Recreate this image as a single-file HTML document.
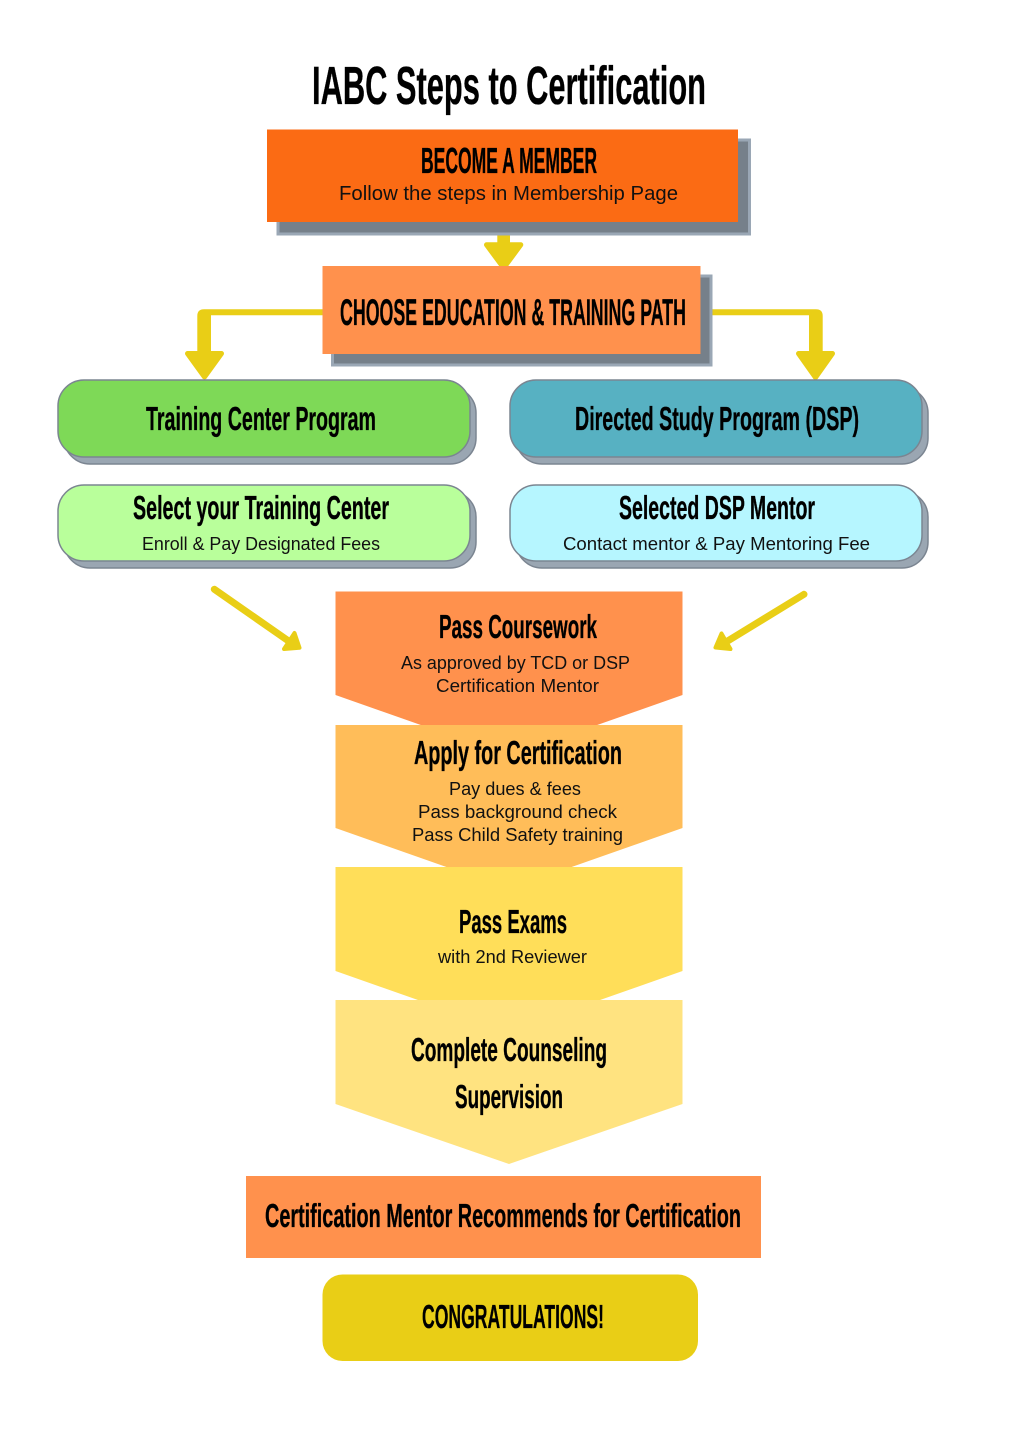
<!DOCTYPE html>
<html lang="en">
<head>
<meta charset="utf-8">
<title>IABC Steps to Certification</title>
<style>
html,body{margin:0;padding:0;background:#fff}
svg{display:block}
.h{font-family:"Liberation Sans",sans-serif;font-weight:700;fill:#000;stroke:#000;stroke-width:.35px}
.s{font-family:"Liberation Sans",sans-serif;font-weight:400;fill:#111;font-size:18px}
</style>
</head>
<body>
<svg xmlns="http://www.w3.org/2000/svg" width="1018" height="1440" viewBox="0 0 1018 1440">
<rect width="1018" height="1440" fill="#fff"/>

<!-- connectors -->
<g fill="#e9ce16" stroke="none">
  <rect x="497.300" y="234" width="12.700" height="12"/>
  <path d="M486.500 244.800H520.800L503.700 268Z" stroke="#e9ce16" stroke-width="5" stroke-linejoin="round"/>
  <path d="M323 309.300H204Q197.300 309.300 197.300 316V355H211V315.300H323Z"/>
  <path d="M187.500 353.500H221.500L204.500 377Z" stroke="#e9ce16" stroke-width="5" stroke-linejoin="round"/>
  <path d="M710 309.300H816Q822.700 309.300 822.700 316V355H809V315.300H710Z"/>
  <path d="M798.500 353.500H832.500L815.500 377.500Z" stroke="#e9ce16" stroke-width="5" stroke-linejoin="round"/>
  <path d="M214.300 589.300L290 642" fill="none" stroke="#e9ce16" stroke-width="7" stroke-linecap="round"/>
  <path d="M294.500 633L299.500 647.800L284 649Z" stroke="#e9ce16" stroke-width="4" stroke-linejoin="round"/>
  <path d="M804 594.300L726 642" fill="none" stroke="#e9ce16" stroke-width="7" stroke-linecap="round"/>
  <path d="M721.500 633.500L715.500 647.500L730.500 649Z" stroke="#e9ce16" stroke-width="4" stroke-linejoin="round"/>
</g>

<!-- top boxes -->
<rect x="278" y="140" width="471.500" height="94" fill="#76808a" stroke="#9aa7b5" stroke-width="3"/>
<rect x="267" y="129.500" width="471" height="92.500" fill="#fb6b14"/>
<rect x="332.500" y="276" width="378.500" height="89" fill="#76808a" stroke="#9aa7b5" stroke-width="3"/>
<rect x="322.500" y="266" width="378" height="88" fill="#ff914d"/>

<!-- rounded boxes -->
<g stroke="#7b8591" stroke-width="1.500">
  <rect x="64" y="387" width="412" height="77" rx="26" fill="#9aa6b2"/>
  <rect x="58" y="380" width="412" height="77" rx="26" fill="#7ed957"/>
  <rect x="64" y="491" width="412" height="77" rx="26" fill="#9aa6b2"/>
  <rect x="58" y="485" width="412" height="76" rx="26" fill="#b9ff9b"/>
  <rect x="516" y="387" width="412" height="77" rx="26" fill="#9aa6b2"/>
  <rect x="510" y="380" width="412" height="77" rx="26" fill="#57b1c2"/>
  <rect x="516" y="491" width="412" height="77" rx="26" fill="#9aa6b2"/>
  <rect x="510" y="485" width="412" height="76" rx="26" fill="#b6f6ff"/>
</g>

<!-- chevrons -->
<path d="M335.500 591.500H682.500V695L509 756L335.500 695Z" fill="#ff914d"/>
<path d="M335.500 725H682.500V828L509 889L335.500 828Z" fill="#ffbd59"/>
<path d="M335.500 867H682.500V971L509 1032L335.500 971Z" fill="#ffde59"/>
<path d="M335.500 1000H682.500V1104L509 1164L335.500 1104Z" fill="#ffe380"/>

<!-- bottom boxes -->
<rect x="246" y="1176" width="515" height="82" fill="#ff914d"/>
<rect x="322.500" y="1274.500" width="375.500" height="86.500" rx="20" fill="#e9ce16"/>

<!-- headings -->
<g class="h" font-size="33">
  <text x="312" y="104" font-size="54" textLength="394" lengthAdjust="spacingAndGlyphs">IABC Steps to Certification</text>
  <text x="421" y="173" font-size="36" textLength="176" lengthAdjust="spacingAndGlyphs">BECOME A MEMBER</text>
  <text x="340" y="325" font-size="37" textLength="346" lengthAdjust="spacingAndGlyphs">CHOOSE EDUCATION &amp; TRAINING PATH</text>
  <text x="146" y="430" textLength="230" lengthAdjust="spacingAndGlyphs">Training Center Program</text>
  <text x="575" y="430" textLength="284" lengthAdjust="spacingAndGlyphs">Directed Study Program (DSP)</text>
  <text x="133" y="519" textLength="256" lengthAdjust="spacingAndGlyphs">Select your Training Center</text>
  <text x="619" y="519" textLength="196" lengthAdjust="spacingAndGlyphs">Selected DSP Mentor</text>
  <text x="439" y="638" textLength="158" lengthAdjust="spacingAndGlyphs">Pass Coursework</text>
  <text x="414" y="764" textLength="208" lengthAdjust="spacingAndGlyphs">Apply for Certification</text>
  <text x="459" y="933" textLength="108" lengthAdjust="spacingAndGlyphs">Pass Exams</text>
  <text x="411" y="1061" textLength="196" lengthAdjust="spacingAndGlyphs">Complete Counseling</text>
  <text x="455" y="1108" textLength="108" lengthAdjust="spacingAndGlyphs">Supervision</text>
  <text x="265" y="1227" textLength="476" lengthAdjust="spacingAndGlyphs">Certification Mentor Recommends for Certification</text>
  <text x="422" y="1328" textLength="182" lengthAdjust="spacingAndGlyphs">CONGRATULATIONS!</text>
</g>

<!-- sub text -->
<g class="s">
  <text x="339" y="200" font-size="20" textLength="339" lengthAdjust="spacingAndGlyphs">Follow the steps in Membership Page</text>
  <text x="142" y="550" textLength="238" lengthAdjust="spacingAndGlyphs">Enroll &amp; Pay Designated Fees</text>
  <text x="563" y="550" textLength="307" lengthAdjust="spacingAndGlyphs">Contact mentor &amp; Pay Mentoring Fee</text>
  <text x="401" y="669" textLength="229" lengthAdjust="spacingAndGlyphs">As approved by TCD or DSP</text>
  <text x="436" y="692" textLength="163" lengthAdjust="spacingAndGlyphs">Certification Mentor</text>
  <text x="449" y="795" textLength="132" lengthAdjust="spacingAndGlyphs">Pay dues &amp; fees</text>
  <text x="418" y="818" textLength="199" lengthAdjust="spacingAndGlyphs">Pass background check</text>
  <text x="412" y="841" textLength="211" lengthAdjust="spacingAndGlyphs">Pass Child Safety training</text>
  <text x="438" y="963" textLength="149" lengthAdjust="spacingAndGlyphs">with 2nd Reviewer</text>
</g>
</svg>
</body>
</html>
